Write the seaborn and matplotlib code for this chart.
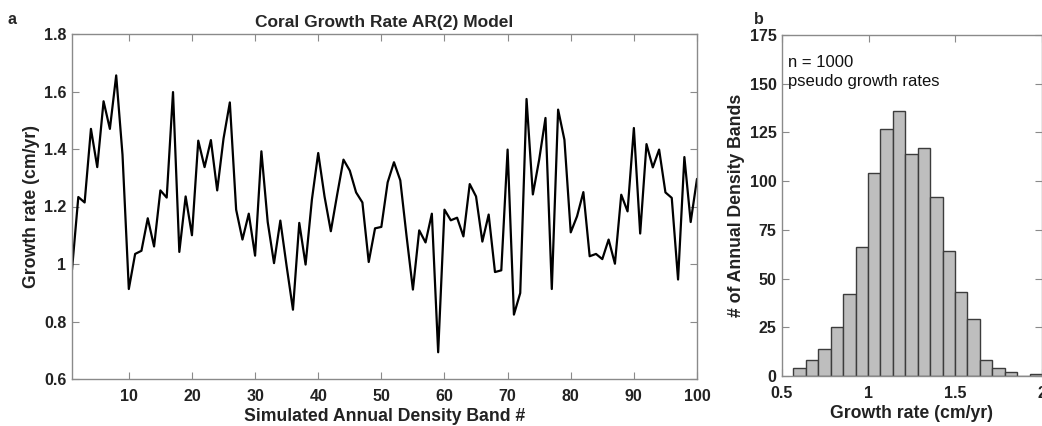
import numpy as np
import pandas as pd
import matplotlib
matplotlib.use("Agg")
import matplotlib.pyplot as plt
import seaborn as sns

# ---------------- data ----------------
band = list(range(1, 101))
growth_rate = [
    0.980, 1.233, 1.214, 1.470, 1.337, 1.566, 1.470, 1.656, 1.380, 0.913,
    1.035, 1.046, 1.159, 1.061, 1.256, 1.231, 1.598, 1.042, 1.235, 1.100,
    1.429, 1.337, 1.431, 1.256, 1.436, 1.562, 1.189, 1.085, 1.175, 1.029,
    1.392, 1.146, 1.003, 1.151, 0.992, 0.841, 1.143, 0.998, 1.224, 1.386,
    1.235, 1.114, 1.241, 1.363, 1.325, 1.249, 1.214, 1.007, 1.124, 1.129,
    1.284, 1.354, 1.291, 1.096, 0.911, 1.117, 1.075, 1.175, 0.693, 1.189,
    1.152, 1.161, 1.096, 1.278, 1.235, 1.078, 1.172, 0.972, 0.978, 1.398,
    0.824, 0.899, 1.574, 1.242, 1.363, 1.508, 0.913, 1.537, 1.432, 1.110,
    1.166, 1.250, 1.027, 1.035, 1.017, 1.085, 1.001, 1.241, 1.183, 1.473,
    1.106, 1.417, 1.336, 1.398, 1.249, 1.230, 0.946, 1.372, 1.146, 1.296,
]
hist_counts = [4, 8, 14, 25, 42, 66, 104, 127, 136, 114,
               117, 92, 64, 43, 29, 8, 4, 2, 0, 1]
hist_bin_start = 0.566
hist_bin_width = 0.0717

line_xticks = [10, 20, 30, 40, 50, 60, 70, 80, 90, 100]
line_yticks = [0.6, 0.8, 1.0, 1.2, 1.4, 1.6, 1.8]
line_yticklabels = ["0.6", "0.8", "1", "1.2", "1.4", "1.6", "1.8"]
hist_xticks = [0.5, 1.0, 1.5, 2.0]
hist_xticklabels = ["0.5", "1", "1.5", "2"]
hist_yticks = [0, 25, 50, 75, 100, 125, 150, 175]

# ---------------- style ----------------
sns.set_style("ticks")
plt.rcParams["font.family"] = ["Liberation Sans", "DejaVu Sans"]

spine_col = "#8a8a8a"

fig = plt.figure(figsize=(10.42, 4.26), dpi=100)
W, H = 1042, 426
ax1 = fig.add_axes([72 / W, 1 - 379 / H, (697 - 72) / W, (379 - 34) / H])
ax2 = fig.add_axes([782 / W, 1 - 376 / H, (1042 - 782) / W, (376 - 35) / H])

df_line = pd.DataFrame({"band": band, "rate": growth_rate})
sns.lineplot(data=df_line, x="band", y="rate", ax=ax1, color="black", linewidth=1.6)

edges = [float(hist_bin_start + hist_bin_width * i) for i in range(len(hist_counts) + 1)]
centers = [(edges[i] + edges[i + 1]) / 2 for i in range(len(hist_counts))]
df_hist = pd.DataFrame({"center": centers, "count": hist_counts})
sns.histplot(data=df_hist, x="center", weights="count", bins=edges, ax=ax2,
             color="#bebebe", edgecolor="#3c3c3c", linewidth=1.0, alpha=1.0)

def style_axes(ax):
    for s in ax.spines.values():
        s.set_visible(True)
        s.set_color(spine_col)
        s.set_linewidth(1.0)
    ax.tick_params(direction="in", length=5, width=0.8, color=spine_col,
                   top=True, right=True, labelsize=11.5, labelcolor="#222222")
    for lab in ax.get_xticklabels() + ax.get_yticklabels():
        lab.set_fontweight("bold")

ax1.set_xlim(1, 100)
ax1.set_ylim(0.6, 1.8)
ax1.set_xticks(line_xticks)
ax1.set_yticks(line_yticks)
ax1.set_yticklabels(line_yticklabels)
ax1.set_xlabel("Simulated Annual Density Band #", fontsize=12.7, fontweight="bold",
               color="#222222", labelpad=3)
ax1.set_ylabel("Growth rate (cm/yr)", fontsize=12.7, fontweight="bold",
               color="#222222", labelpad=3)
ax1.set_title("Coral Growth Rate AR(2) Model", fontsize=12.5, fontweight="bold", pad=5)
style_axes(ax1)
ax1.tick_params(axis="x", pad=7)
ax1.tick_params(axis="y", pad=4)

ax2.set_xlim(0.5, 2.0)
ax2.set_ylim(0, 175)
ax2.set_xticks(hist_xticks)
ax2.set_xticklabels(hist_xticklabels)
ax2.set_yticks(hist_yticks)
ax2.set_xlabel("Growth rate (cm/yr)", fontsize=12.7, fontweight="bold",
               color="#222222", labelpad=3)
ax2.set_ylabel("# of Annual Density Bands", fontsize=12.7, fontweight="bold",
               color="#222222", labelpad=3)
style_axes(ax2)
ax2.tick_params(axis="x", pad=7)
ax2.tick_params(axis="y", pad=4)

ax2.text(0.025, 0.94, "n = 1000\npseudo growth rates", transform=ax2.transAxes,
         ha="left", va="top", fontsize=12, linespacing=1.3, color="#111111")

fig.text(8 / W, 1 - 19 / H, "a", fontsize=11.5, fontweight="bold", va="center", ha="left")
fig.text(754 / W, 1 - 20 / H, "b", fontsize=11.5, fontweight="bold", va="center", ha="left")

fig.savefig("out.png", dpi=100)
